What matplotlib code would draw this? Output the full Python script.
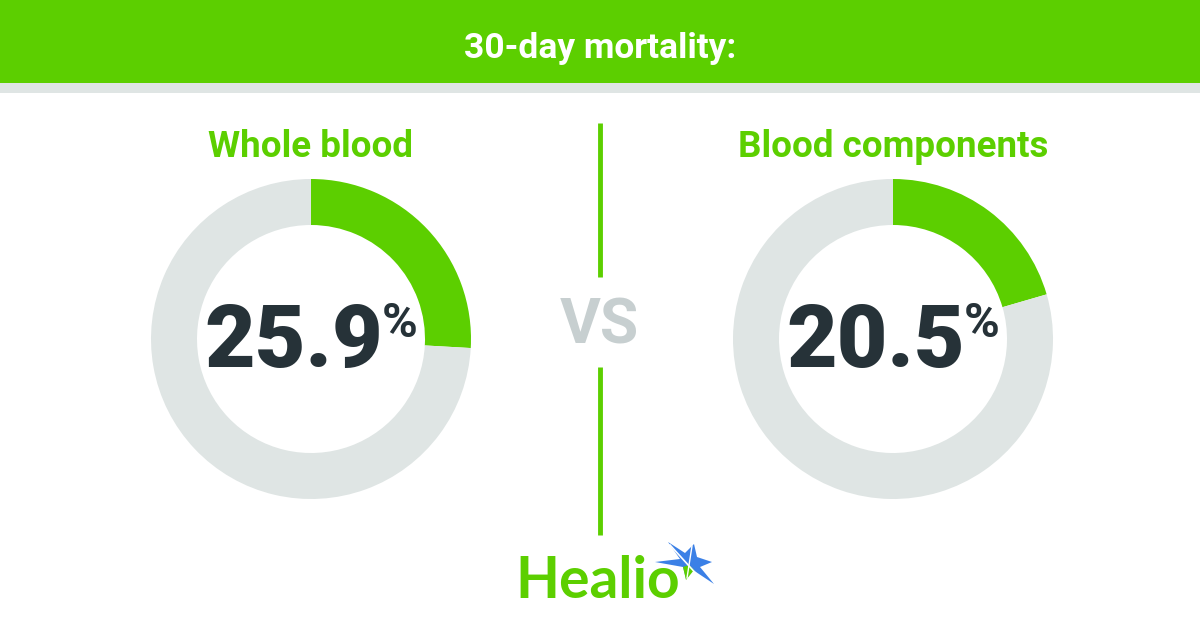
import matplotlib
matplotlib.use("Agg")
import matplotlib.pyplot as plt
from matplotlib.patches import Rectangle, Polygon

# data
title = "30-day mortality:"
groups = ["Whole blood", "Blood components"]
mortality = [25.9, 20.5]
vs_text = "VS"
brand = "Healio"

green = "#5ccf00"
ring_gray = "#dfe5e4"
dark = "#263238"
vs_gray = "#c7cfd0"

W, H = 1200, 630
fig = plt.figure(figsize=(12, 6.3), dpi=100)
ax = fig.add_axes([0, 0, 1, 1])


def Y(y):
    # pixel rows from the top -> data y
    return H - y


# header band
ax.add_patch(Rectangle((0, Y(83)), W, 83, color=green, lw=0))
ax.add_patch(Rectangle((0, Y(93)), W, 10, color=ring_gray, lw=0))
ax.text(600, Y(58), title, color="white", fontsize=25.5, fontweight="bold",
        family=["Roboto", "DejaVu Sans"], ha="center", va="baseline")

# divider + VS
ax.plot([600, 600], [Y(123), Y(277)], color=green, lw=3.5, solid_capstyle="butt")
ax.plot([600, 600], [Y(367), Y(535)], color=green, lw=3.5, solid_capstyle="butt")
ax.text(599, Y(343), vs_text, color=vs_gray, fontsize=45, fontweight="bold",
        family=["Roboto", "DejaVu Sans"], ha="center", va="baseline")

# donuts
centers = [311, 893]
for cx, name, val in zip(centers, groups, mortality):
    ax.pie([val, 100 - val], colors=[green, ring_gray], startangle=90,
           counterclock=False, center=(cx, Y(339)), radius=160,
           wedgeprops=dict(width=46, linewidth=0), frame=True)
    ax.text(cx, Y(157), name, color=green, fontsize=26.5, fontweight="bold",
            family=["Roboto", "DejaVu Sans"], ha="center", va="baseline")
    ax.text(cx + 72, Y(367), f"{val:.1f}", color=dark, fontsize=63,
            fontweight="black", family=["Roboto", "DejaVu Sans"],
            ha="right", va="baseline")
    ax.text(cx + 71, Y(337), "%", color=dark, fontsize=35,
            fontweight="bold", family=["Roboto", "DejaVu Sans"],
            ha="left", va="baseline")

# restore the axes after pie()
ax.set_xlim(0, W)
ax.set_ylim(0, H)
ax.set_aspect("equal")
ax.axis("off")

# logo
ax.text(515, Y(598), brand, color=green, fontsize=41, fontweight="bold",
        family=["Lato", "DejaVu Sans"], ha="left", va="baseline")
star = [(668, 542), (685, 553), (694, 544), (697, 557), (712, 562),
        (700, 567), (714, 584), (693, 570), (686, 579), (683, 567),
        (655, 562), (680, 559)]
ax.add_patch(Polygon([(x, Y(y)) for x, y in star], closed=True,
                     color="#3b80e6", lw=0))
ax.add_patch(Polygon([(x, Y(y)) for x, y in
                      [(689, 565), (694, 570), (686, 580), (683, 567)]],
                     closed=True, color=green, lw=0))
ax.plot([670, 700], [Y(545), Y(578)], color="white", lw=1.2)
ax.plot([692, 687], [Y(546), Y(578)], color="white", lw=1.0)

fig.savefig("out.png", dpi=100)
